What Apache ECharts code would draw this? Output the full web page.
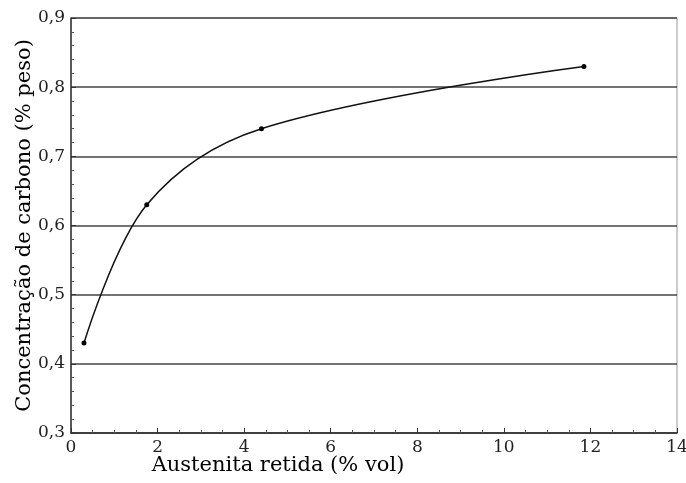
<!DOCTYPE html>
<html><head><meta charset="utf-8">
<script src="https://cdn.jsdelivr.net/npm/echarts@6/dist/echarts.min.js"></script>
<style>html,body{margin:0;padding:0;background:#fff}#c{width:686px;height:483px}</style>
</head><body><div id="c"></div>
<script>
const xValues = [0.3, 1.75, 4.4, 11.85];
const yValues = [0.43, 0.63, 0.74, 0.83];
const xTicks = [0, 2, 4, 6, 8, 10, 12, 14];
const yTicks = [0.3, 0.4, 0.5, 0.6, 0.7, 0.8, 0.9];
const xTitle = 'Austenita retida (% vol)';
const yTitle = 'Concentração de carbono (% peso)';

const font = 'DejaVu Serif, Liberation Serif, serif';
const chart = echarts.init(document.getElementById('c'));
chart.setOption({
  animation: false,
  grid: {left: 71, right: 9, top: 18, bottom: 50, show: true, borderColor: '#999', borderWidth: 1,
         outerBoundsMode: 'none', containLabel: false},
  xAxis: {
    type: 'value', min: xTicks[0], max: xTicks[xTicks.length-1], interval: 2,
    name: xTitle, nameLocation: 'middle', nameGap: 22, nameMoveOverlap: false,
    nameTextStyle: {fontFamily: font, fontSize: 21, color: '#000', padding: [0, 192, 0, 0]},
    axisLine: {lineStyle: {color: '#333', width: 1.5}},
    axisTick: {inside: true, length: 5, lineStyle: {color: '#333'}},
    minorTick: {show: true, splitNumber: 4, length: 3, lineStyle: {color: '#555'}},
    axisLabel: {fontFamily: font, fontSize: 17, color: '#222', margin: 6},
    splitLine: {show: false}
  },
  yAxis: {
    type: 'value', min: yTicks[0], max: yTicks[yTicks.length-1], interval: 0.1,
    name: yTitle, nameLocation: 'middle', nameGap: 36, nameRotate: 90, nameMoveOverlap: false,
    nameTextStyle: {fontFamily: font, fontSize: 21, color: '#000'},
    axisLine: {lineStyle: {color: '#333', width: 1.5}},
    axisTick: {inside: true, length: 5, lineStyle: {color: '#333'}},
    minorTick: {show: true, splitNumber: 5, length: 3, lineStyle: {color: '#555'}},
    axisLabel: {fontFamily: font, fontSize: 17, color: '#222', margin: 6,
      formatter: v => v.toFixed(1).replace('.', ',')},
    splitLine: {show: true, lineStyle: {color: '#444', width: 1.5}}
  },
  series: [{
    type: 'line',
    data: xValues.map((x, i) => [x, yValues[i]]),
    smooth: 0.35,
    symbol: 'circle', symbolSize: 5,
    itemStyle: {color: '#000'},
    lineStyle: {color: '#111', width: 1.5}
  }]
});
</script></body></html>
